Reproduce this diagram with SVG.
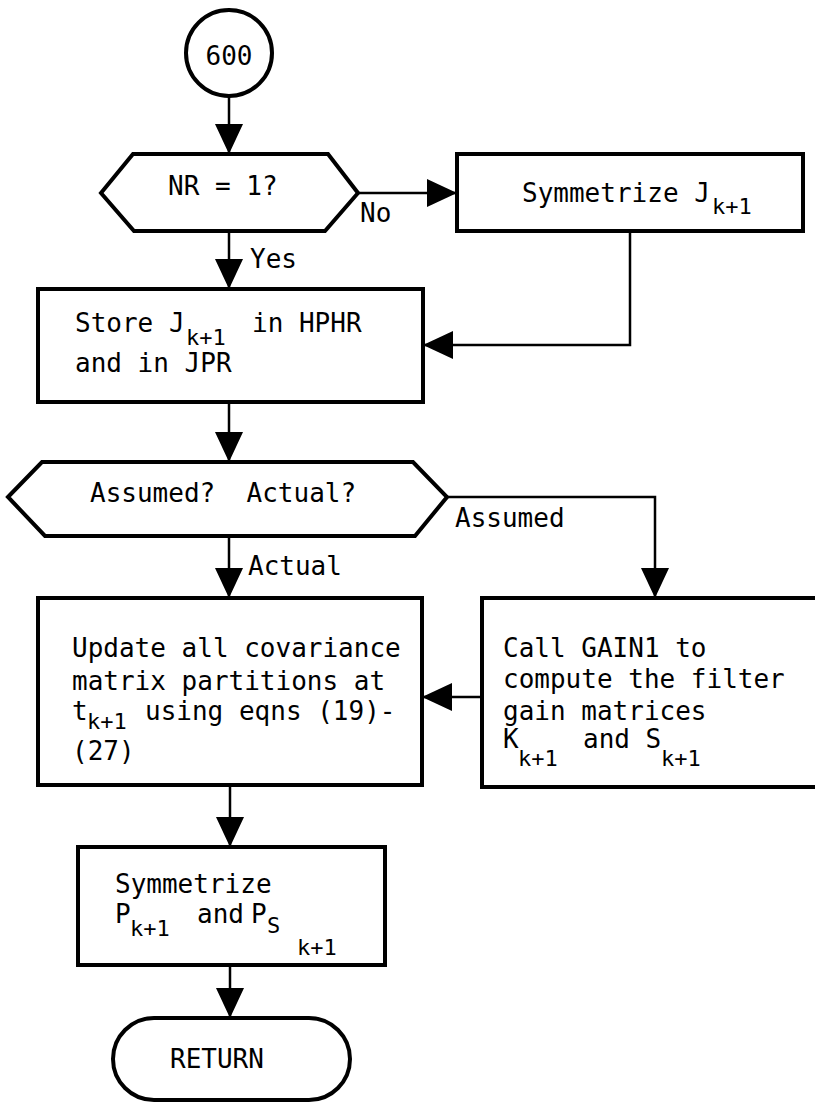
<svg xmlns="http://www.w3.org/2000/svg" width="815" height="1102" viewBox="0 0 815 1102">
<style>
.shape{fill:#fff;stroke:#000;stroke-width:4;stroke-linejoin:miter}
.conn{fill:none;stroke:#000;stroke-width:2.5;marker-end:url(#ah)}
text{font-family:"DejaVu Sans Mono","Liberation Mono",monospace;font-size:26px;fill:#000;white-space:pre}
.sub{font-size:22px}
</style>
<defs>
<marker id="ah" markerUnits="userSpaceOnUse" markerWidth="30" markerHeight="28" refX="30" refY="14" orient="auto">
<path d="M0,0 L30,14 L0,28 z" fill="#000"/>
</marker>
</defs>
<rect width="815" height="1102" fill="#fff"/>
<g id="connectors">
<path class="conn" d="M229,97 L229,154"/>
<path class="conn" d="M358,193 L457,193"/>
<path class="conn" d="M229,231 L229,289"/>
<path class="conn" d="M630,231 L630,345 L423,345"/>
<path class="conn" d="M229,402 L229,462"/>
<path class="conn" d="M447,497 L655,497 L655,598"/>
<path class="conn" d="M229,536 L229,598"/>
<path class="conn" d="M482,697 L422,697"/>
<path class="conn" d="M230,785 L230,847"/>
<path class="conn" d="M230,965 L230,1018"/>
<text x="360" y="222">No</text>
<text x="250" y="268">Yes</text>
<text x="455" y="527">Assumed</text>
<text x="248" y="575">Actual</text>
</g>
<g id="start">
<circle class="shape" cx="229" cy="53" r="43" stroke-width="3"/>
<text x="229" y="65" text-anchor="middle">600</text>
</g>
<g id="decision-nr">
<polygon class="shape" points="101,193 133,154 328,154 358,193 325,231 134,231"/>
<text x="168" y="195">NR = 1?</text>
</g>
<g id="symmetrize-j">
<rect class="shape" x="457" y="154" width="346" height="77"/>
<text x="522" y="202">Symmetrize J</text>
<text class="sub" x="712" y="214">k+1</text>
</g>
<g id="store">
<rect class="shape" x="38" y="289" width="385" height="113"/>
<text x="75" y="332">Store J</text>
<text class="sub" x="186" y="345">k+1</text>
<text x="252" y="332">in HPHR</text>
<text x="75" y="372">and in JPR</text>
</g>
<g id="decision-assumed">
<polygon class="shape" points="8,497 42,462 413,462 447,497 415,536 45,536"/>
<text x="90" y="502" xml:space="preserve">Assumed?  Actual?</text>
</g>
<g id="update">
<rect class="shape" x="38" y="598" width="384" height="187"/>
<text x="72" y="657">Update all covariance</text>
<text x="72" y="690">matrix partitions at</text>
<text x="72" y="720">t</text>
<text class="sub" x="87" y="729" font-size="21">k+1</text>
<text x="145" y="720">using eqns (19)-</text>
<text x="72" y="760">(27)</text>
</g>
<g id="gain1">
<rect class="shape" x="482" y="598" width="350" height="189"/>
<text x="503" y="657">Call GAIN1 to</text>
<text x="503" y="688">compute the filter</text>
<text x="503" y="720">gain matrices</text>
<text x="503" y="748">K</text>
<text class="sub" x="518" y="766">k+1</text>
<text x="583" y="748">and S</text>
<text class="sub" x="661" y="766">k+1</text>
</g>
<g id="symmetrize-p">
<rect class="shape" x="78" y="847" width="307" height="118"/>
<text x="115" y="893">Symmetrize</text>
<text x="115" y="923">P</text>
<text class="sub" x="130" y="936">k+1</text>
<text x="197" y="923">and</text>
<text x="251" y="923">P</text>
<text class="sub" x="267" y="933">S</text>
<text class="sub" x="297" y="955">k+1</text>
</g>
<g id="return">
<rect class="shape" x="113" y="1018" width="237" height="82" rx="41" ry="41"/>
<text x="170" y="1068">RETURN</text>
</g>
</svg>
